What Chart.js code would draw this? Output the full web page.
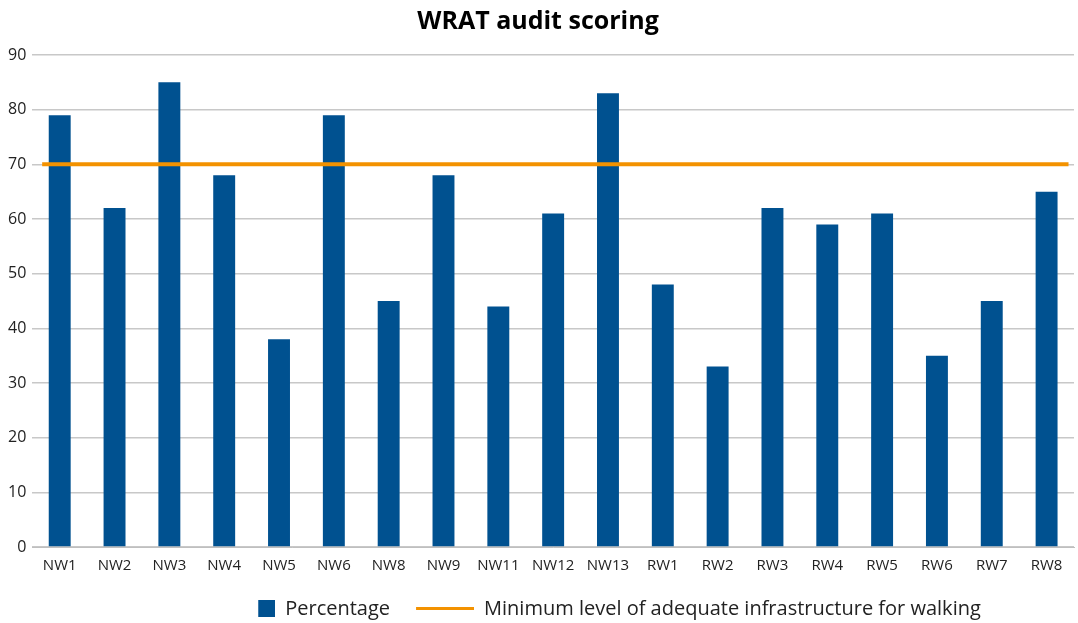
<!DOCTYPE html>
<html>
<head>
<meta charset="utf-8">
<script src="https://cdn.jsdelivr.net/npm/chart.js@4/dist/chart.umd.min.js"></script>
<style>
  html, body { margin: 0; padding: 0; background: #fff; }
</style>
</head>
<body>
<canvas id="wratChart" width="1078" height="623"></canvas>
<script>
const sites = ["NW1", "NW2", "NW3", "NW4", "NW5", "NW6", "NW8", "NW9", "NW11", "NW12", "NW13",
  "RW1", "RW2", "RW3", "RW4", "RW5", "RW6", "RW7", "RW8"];
const percentage = [79, 62, 85, 68, 38, 79, 45, 68, 44, 61, 83, 48, 33, 62, 59, 61, 35, 45, 65];
const minimumLevel = 70;
// threshold line extent, in category-index units
const thresholdSpan = [-0.32, 18.4];

const BLUE = "#005190";
const ORANGE = "#F39200";

// legend markers: square for the bars, short stroke for the line
function makeMarker(kind) {
  const c = document.createElement("canvas");
  c.width = 72;
  c.height = 18;
  const g = c.getContext("2d");
  if (kind === "bar") {
    g.fillStyle = BLUE;
    g.fillRect(55, 0, 17, 17);
  } else {
    g.fillStyle = ORANGE;
    g.fillRect(14, 7, 58, 3);
  }
  return c;
}

// the legend sits a bit right of centre in the original
const legendNudge = {
  id: "legendNudge",
  afterLayout(chart) {
    chart.legend.left += 54;
    chart.legend.right += 54;
  }
};

const ctx = document.getElementById("wratChart").getContext("2d");

new Chart(ctx, {
  type: "bar",
  data: {
    labels: sites,
    datasets: [
      {
        label: "Percentage",
        data: percentage,
        backgroundColor: BLUE,
        barPercentage: 0.4,
        categoryPercentage: 1,
        grouped: false,
        pointStyle: makeMarker("bar"),
        order: 2
      },
      {
        type: "line",
        label: "Minimum level of adequate infrastructure for walking",
        data: thresholdSpan.map(x => ({ x: x, y: minimumLevel })),
        xAxisID: "xLine",
        borderColor: ORANGE,
        backgroundColor: ORANGE,
        borderWidth: 4,
        pointRadius: 0,
        pointStyle: makeMarker("line"),
        order: 1
      }
    ]
  },
  plugins: [legendNudge],
  options: {
    responsive: false,
    animation: false,
    layout: { padding: { left: 2, right: 4, top: 7, bottom: 0 } },
    plugins: {
      title: {
        display: true,
        text: "WRAT audit scoring",
        color: "#000",
        font: { family: "Open Sans", size: 25, weight: "bold" },
        padding: { top: 0, bottom: 18 }
      },
      legend: {
        position: "bottom",
        maxHeight: 36,
        labels: {
          usePointStyle: true,
          pointStyleWidth: 72,
          color: "#222",
          font: { family: "Open Sans", size: 20 },
          padding: 12,
          sort: (a, b) => a.datasetIndex - b.datasetIndex
        }
      },
      tooltip: { enabled: false }
    },
    scales: {
      x: {
        grid: { display: false, drawTicks: false },
        border: { color: "#bfbfbf" },
        ticks: {
          color: "#222",
          font: { family: "Open Sans", size: 15 },
          maxRotation: 0,
          autoSkip: false,
          padding: 10
        },
        afterFit: scale => { scale.height = 40; }
      },
      xLine: {
        type: "linear",
        display: false,
        offset: false,
        min: -0.5,
        max: 18.5
      },
      y: {
        min: 0,
        max: 90,
        ticks: {
          stepSize: 10,
          color: "#222",
          font: { family: "Open Sans", size: 16 },
          padding: 6
        },
        grid: { color: "#c8c8c8", lineWidth: 1.5, drawTicks: false },
        border: { display: false }
      }
    }
  }
});
</script>
</body>
</html>
